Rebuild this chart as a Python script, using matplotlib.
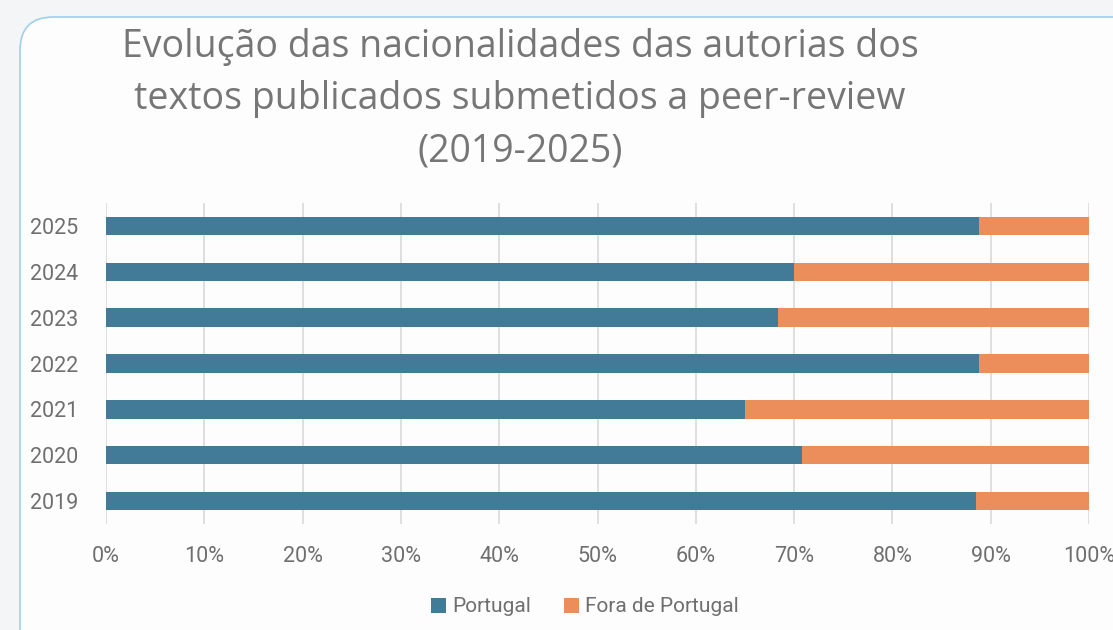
import numpy as np
import matplotlib.pyplot as plt
from matplotlib.patches import FancyBboxPatch

# Data (share of authorships, %)
years = ['2019', '2020', '2021', '2022', '2023', '2024', '2025']
portugal = [88.5, 70.8, 65.0, 88.8, 68.4, 70.0, 88.8]
fora = [100 - p for p in portugal]
series_names = ['Portugal', 'Fora de Portugal']
x_ticks = [0, 10, 20, 30, 40, 50, 60, 70, 80, 90, 100]

blue = '#427b98'
orange = '#ec8d5c'
narrow = ['Liberation Sans Narrow', 'Roboto', 'DejaVu Sans']

fig = plt.figure(figsize=(11.13, 6.3), dpi=100)
fig.patch.set_facecolor('#f4f5f7')

# card background with rounded corner
card = FancyBboxPatch((20/1113, -0.2), 1.2, 1 - 17/630 + 0.2,
                      boxstyle='round,pad=0,rounding_size=0.03',
                      transform=fig.transFigure, facecolor='#fdfdfd',
                      edgecolor='#9fd0ea', linewidth=1.2, zorder=-5,
                      mutation_aspect=1113/630)
fig.patches.append(card)

ax = fig.add_axes([106/1113, 1 - 524/630, (1089 - 106)/1113, (524 - 203)/630])
ax.set_facecolor('none')

y = np.arange(len(years))
ax.barh(y, portugal, height=0.4, color=blue, label=series_names[0], zorder=3)
ax.barh(y, fora, left=portugal, height=0.4, color=orange, label=series_names[1], zorder=3)

ax.set_xlim(0, 100)
ax.set_ylim(-0.5, len(years) - 0.5)
ax.set_xticks(x_ticks)
ax.set_xticklabels([f'{v}%' for v in x_ticks], family=narrow, fontsize=15.5, color='#6f6f6f')
ax.set_yticks(y)
ax.set_yticklabels(years, family=narrow, fontsize=15.5, color='#6f6f6f')
ax.tick_params(axis='x', length=0, pad=16)
ax.tick_params(axis='y', length=0, pad=20)
ax.grid(axis='x', color='#d9d9d9', linewidth=1.2, zorder=0)
for s in ax.spines.values():
    s.set_visible(False)

fig.text(520/1113, 1 - 99/630,
         'Evolução das nacionalidades das autorias dos\ntextos publicados submetidos a peer-review\n(2019-2025)',
         ha='center', va='center', family='Open Sans', fontsize=27,
         color='#767676', linespacing=1.5)

leg = fig.legend(loc='center', bbox_to_anchor=(585/1113, 1 - 607/630), ncol=2,
                 frameon=False, handlelength=0.7, handleheight=0.7,
                 handletextpad=0.3, columnspacing=1.6,
                 prop={'family': narrow, 'size': 15})
for t in leg.get_texts():
    t.set_color('#6f6f6f')

plt.savefig('out.png', dpi=100, facecolor=fig.get_facecolor())
